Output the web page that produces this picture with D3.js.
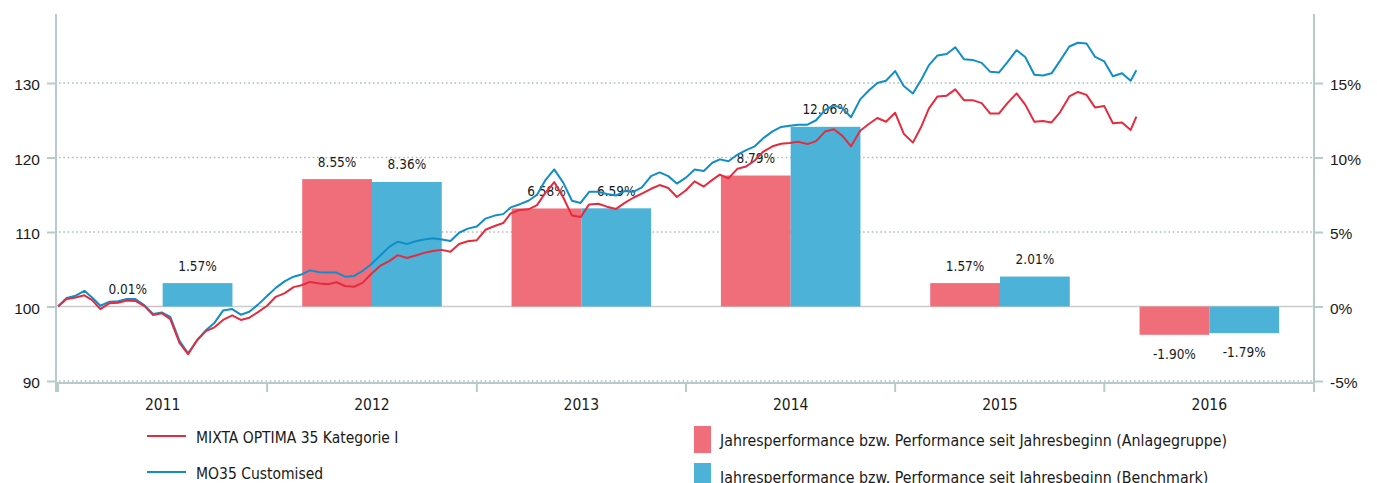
<!DOCTYPE html>
<html>
<head>
<meta charset="utf-8">
<script src="https://cdn.jsdelivr.net/npm/d3@7"></script>
<style>
  html, body { margin: 0; padding: 0; background: #fff; }
  svg { display: block; font-family: 'DejaVu Sans Condensed', 'DejaVu Sans', sans-serif; font-stretch: condensed; }
</style>
</head>
<body>
<svg id="chart" width="1377" height="483"></svg>
<script>
// ---- data -------------------------------------------------------------
const years = ["2011", "2012", "2013", "2014", "2015", "2016"];

// yearly (resp. year-to-date) performance in %
const fundYearly  = [0.01, 8.55, 6.58, 8.79, 1.57, -1.90];
const benchYearly = [1.57, 8.36, 6.59, 12.06, 2.01, -1.79];

// indexed value development (start = 100), sampled on the 1st and 16th of each month
const fundIndex = [
  100.0, 101.0, 101.2, 101.5, 100.9, 99.65, 100.45, 100.5, 100.8, 100.75,
  100.05, 98.85, 99.1, 98.3, 95.1, 93.6, 95.5, 96.7, 97.2, 98.2,
  98.8, 98.2, 98.5, 99.25, 100.1, 101.3, 101.8, 102.6, 102.85, 103.3,
  103.1, 103.0, 103.25, 102.75, 102.65, 103.2, 104.4, 105.45, 106.1, 106.9,
  106.5, 106.85, 107.2, 107.45, 107.6, 107.35, 108.4, 108.75, 108.9, 110.3,
  110.8, 111.2, 112.5, 112.95, 113.05, 113.6, 115.3, 116.7, 114.6, 112.2,
  112.0, 113.7, 113.8, 113.4, 113.1, 113.9, 114.6, 115.15, 115.8, 116.3,
  115.9, 114.7, 115.6, 116.8, 116.1, 117.0, 117.7, 117.2, 118.5, 118.8,
  119.6, 120.8, 121.5, 121.85, 121.95, 122.1, 121.8, 122.2, 123.5, 123.8,
  122.9, 121.5, 123.6, 124.5, 125.3, 124.8, 126.0, 123.2, 122.0, 124.2,
  126.6, 128.2, 128.3, 129.15, 127.7, 127.7, 127.3, 125.9, 125.9, 127.3,
  128.6, 127.1, 124.8, 124.9, 124.7, 126.1, 128.2, 128.8, 128.4, 126.7,
  126.9, 124.6, 124.7, 123.7, 125.5
];
const benchIndex = [
  100.0, 101.15, 101.45, 102.1, 101.25, 100.1, 100.65, 100.7, 101.0, 101.0,
  100.15, 99.0, 99.2, 98.6, 95.4, 93.7, 95.5, 96.8, 97.8, 99.45,
  99.65, 98.9, 99.3, 100.25, 101.4, 102.5, 103.4, 104.0, 104.3, 104.85,
  104.6, 104.55, 104.55, 104.0, 104.1, 104.8, 105.7, 106.8, 108.0, 108.7,
  108.4, 108.75, 109.0, 109.15, 109.0, 108.8, 109.9, 110.45, 110.75, 111.8,
  112.2, 112.4, 113.3, 113.7, 114.2, 115.0, 117.0, 118.4, 116.6, 114.2,
  113.9, 115.4, 115.4, 115.1, 114.9, 115.5, 115.4, 116.0, 117.5, 118.0,
  117.5, 116.5, 117.3, 118.4, 118.2, 119.3, 119.75, 119.5, 120.4, 121.0,
  121.5, 122.6, 123.5, 124.1, 124.25, 124.4, 124.4, 125.0, 126.4, 127.0,
  126.6, 125.4, 127.8, 129.0, 130.0, 130.3, 131.6, 129.6, 128.6, 130.5,
  132.4, 133.7, 133.9, 134.8, 133.2, 133.1, 132.7, 131.5, 131.4, 132.8,
  134.4, 133.5, 131.1, 131.0, 131.3, 133.0, 134.9, 135.4, 135.3, 133.5,
  132.9, 130.9, 131.3, 130.3, 131.7
];

const leftTicks  = [90, 100, 110, 120, 130];
const rightTicks = [-5, 0, 5, 10, 15];

const lineNames = ["MIXTA OPTIMA 35 Kategorie I", "MO35 Customised"];
const barNames  = [
  "Jahresperformance bzw. Performance seit Jahresbeginn (Anlagegruppe)",
  "Jahresperformance bzw. Performance seit Jahresbeginn (Benchmark)"
];

// sample dates: 1st and 16th of every month, Jan 2011 - Feb 2016, plus last valuation day
const sampleDates = d3.timeMonth.range(new Date(2011, 0, 1), new Date(2016, 2, 1))
  .flatMap(m => [m, new Date(m.getFullYear(), m.getMonth(), 16)]);
sampleDates.push(new Date(2016, 1, 26));

// ---- styling ----------------------------------------------------------
const colors = {
  fundLine: "#e62b3e",
  benchLine: "#118dc8",
  fundBar: "#f06e7a",
  benchBar: "#4db2d8",
  axis: "#b7cbc9",
  grid: "#a8bfbc",
  zero: "#c9cccc",
  text: "#1a1a1a"
};

const pct = v => v.toFixed(2) + "%";

// ---- layout -----------------------------------------------------------
const plot = { left: 57, right: 1314, top: 14, bottom: 383 };

const svg = d3.select("#chart");

const xTime = d3.scaleTime()
  .domain([new Date(2011, 0, 1), new Date(2017, 0, 1)])
  .range([plot.left + 1, plot.right]);

const xYear = d3.scaleBand()
  .domain(years)
  .range([plot.left + 1, plot.right])
  .paddingInner(1 / 3)
  .paddingOuter(1 / 6);

const xSeries = d3.scaleBand()
  .domain(["fund", "bench"])
  .range([0, xYear.bandwidth()]);

const yLeft = d3.scaleLinear().domain([90, 130]).range([381, 83]);
const yRight = d3.scaleLinear().domain([-5, 15]).range([381, 83]);

// ---- grid -------------------------------------------------------------
const grid = svg.append("g");
grid.selectAll("line.grid")
  .data(leftTicks.filter(v => v !== 100))
  .join("line")
  .attr("x1", plot.left + 2).attr("x2", plot.right - 1)
  .attr("y1", d => yLeft(d)).attr("y2", d => yLeft(d))
  .attr("stroke", colors.grid)
  .attr("stroke-width", 1.6)
  .attr("stroke-dasharray", "1.6 2.7");

grid.append("line")
  .attr("x1", plot.left + 2).attr("x2", plot.right - 1)
  .attr("y1", yLeft(100)).attr("y2", yLeft(100))
  .attr("stroke", colors.zero)
  .attr("stroke-width", 1.5);

// ---- bars -------------------------------------------------------------
const barData = years.flatMap((yr, i) => [
  { year: yr, key: "fund", value: fundYearly[i] },
  { year: yr, key: "bench", value: benchYearly[i] }
]);

svg.append("g").selectAll("rect")
  .data(barData)
  .join("rect")
  .attr("x", d => xYear(d.year) + xSeries(d.key))
  .attr("width", xSeries.bandwidth())
  .attr("y", d => Math.min(yRight(d.value), yRight(0)))
  .attr("height", d => Math.abs(yRight(d.value) - yRight(0)))
  .attr("fill", d => d.key === "fund" ? colors.fundBar : colors.benchBar);

svg.append("g").selectAll("text")
  .data(barData)
  .join("text")
  .attr("x", d => xYear(d.year) + xSeries(d.key) + xSeries.bandwidth() / 2)
  .attr("y", d => d.value >= 0 ? yRight(d.value) - 12.5 : yRight(d.value) + 24)
  .attr("text-anchor", "middle")
  .attr("font-size", 13.5)
  .attr("fill", colors.text)
  .text(d => pct(d.value));

// ---- lines ------------------------------------------------------------
const line = d3.line()
  .x((d, i) => xTime(sampleDates[i]))
  .y(d => yLeft(d));

svg.append("path")
  .datum(benchIndex)
  .attr("d", line)
  .attr("fill", "none")
  .attr("stroke", colors.benchLine)
  .attr("stroke-width", 2)
  .attr("stroke-linejoin", "round");

svg.append("path")
  .datum(fundIndex)
  .attr("d", line)
  .attr("fill", "none")
  .attr("stroke", colors.fundLine)
  .attr("stroke-width", 2)
  .attr("stroke-linejoin", "round");

// ---- axes -------------------------------------------------------------
const axes = svg.append("g").attr("stroke", colors.axis).attr("stroke-width", 2);
// vertical axis lines
axes.append("line").attr("x1", plot.left - 1).attr("x2", plot.left - 1)
  .attr("y1", plot.top).attr("y2", plot.bottom + 9);
axes.append("line").attr("x1", plot.right).attr("x2", plot.right)
  .attr("y1", plot.top).attr("y2", plot.bottom + 9);
// horizontal axis line
axes.append("line").attr("x1", plot.left - 1).attr("x2", plot.right)
  .attr("y1", plot.bottom).attr("y2", plot.bottom);

// left ticks + labels
const leftAxis = d3.axisLeft(yLeft).tickValues(leftTicks).tickSize(9).tickPadding(7)
  .tickFormat(d => String(d));
const gL = svg.append("g").attr("transform", `translate(${plot.left - 1},0)`).call(leftAxis);
gL.select(".domain").remove();

const rightAxis = d3.axisRight(yRight).tickValues(rightTicks).tickSize(9).tickPadding(7)
  .tickFormat(d => d + "%");
const gR = svg.append("g").attr("transform", `translate(${plot.right},0)`).call(rightAxis);
gR.select(".domain").remove();

[gL, gR].forEach(g => {
  g.selectAll(".tick line").attr("stroke", colors.axis).attr("stroke-width", 2);
  g.selectAll(".tick text")
    .attr("font-family", null)
    .attr("font-size", 15.5)
    .attr("fill", colors.text)
    .attr("dy", "0.45em");
});

// year boundary ticks
const boundaries = years.map(y => new Date(+y, 0, 1)).concat([new Date(2017, 0, 1)]);
svg.append("g").selectAll("line")
  .data(boundaries)
  .join("line")
  .attr("x1", d => xTime(d)).attr("x2", d => xTime(d))
  .attr("y1", plot.bottom).attr("y2", plot.bottom + 9)
  .attr("stroke", colors.axis).attr("stroke-width", 2);

// year labels
svg.append("g").selectAll("text")
  .data(years)
  .join("text")
  .attr("x", d => xYear(d) + xYear.bandwidth() / 2)
  .attr("y", 410)
  .attr("text-anchor", "middle")
  .attr("font-size", 15.5)
  .attr("fill", colors.text)
  .text(d => d);

// ---- legend -----------------------------------------------------------
const legend = svg.append("g");
const lineColors = [colors.fundLine, colors.benchLine];
lineNames.forEach((name, i) => {
  const y = 436 + i * 36;
  legend.append("line")
    .attr("x1", 147).attr("x2", 186).attr("y1", y).attr("y2", y)
    .attr("stroke", lineColors[i]).attr("stroke-width", 2);
  legend.append("text")
    .attr("x", 196).attr("y", y + 6.5)
    .attr("font-size", 15.5).attr("fill", colors.text)
    .text(name);
});

const barColors = [colors.fundBar, colors.benchBar];
barNames.forEach((name, i) => {
  const y = 426 + i * 37;
  legend.append("rect")
    .attr("x", 694).attr("y", y).attr("width", 17).attr("height", 27)
    .attr("fill", barColors[i]);
  legend.append("text")
    .attr("x", 720).attr("y", y + 20)
    .attr("font-size", 15.8).attr("fill", colors.text)
    .text(name);
});
</script>
</body>
</html>
